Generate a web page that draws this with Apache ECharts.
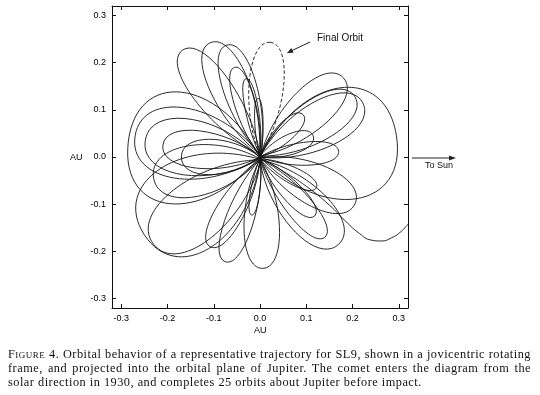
<!DOCTYPE html>
<html><head><meta charset="utf-8">
<script src="https://cdn.jsdelivr.net/npm/echarts@6/dist/echarts.min.js"></script>
<style>
html,body{margin:0;padding:0;background:#fff;}
#c{position:absolute;left:0;top:0;width:540px;height:395px;}
#cap{position:absolute;left:8px;top:348px;width:523px;font-family:"Liberation Serif",serif;font-size:12.3px;line-height:13.8px;color:#111;letter-spacing:0.5px;}
.j{text-align:justify;text-align-last:justify;white-space:nowrap;}
.sc{font-variant:small-caps;}
</style></head><body>
<div id="c"></div>
<div id="cap">
<div class="j"><span class="sc">Figure</span> 4. Orbital behavior of a representative trajectory for SL9, shown in a jovicentric rotating</div>
<div class="j">frame, and projected into the orbital plane of Jupiter. The comet enters the diagram from the</div>
<div>solar direction in 1930, and completes 25 orbits about Jupiter before impact.</div>
</div>
<script>
// ---- tick values & labels ----
const xTicks = [-0.3, -0.2, -0.1, 0, 0.1, 0.2, 0.3];
const xTickLabels = ['-0.3', '-0.2', '-0.1', '0.0', '0.1', '0.2', '0.3'];
const yTicks = [-0.3, -0.2, -0.1, 0, 0.1, 0.2, 0.3];
const yTickLabels = ['-0.3', '-0.2', '-0.1', '0.0', '0.1', '0.2', '0.3'];

// ---- orbit loops (AU) ----
// each loop: near-Jupiter point (peri), farthest point (apo), half-width of the loop
const periX = [0.000, 0.000, 0.002, -0.002, 0.001, 0.000,  0.000, 0.002, 0.000, 0.000, 0.000, 0.002, 0.000, 0.000,  0.000, 0.001, 0.000, 0.000,  0.000, 0.000, 0.000, 0.000, 0.000,  0.000, 0.002, 0.000, 0.000, 0.000, 0.000, 0.000];
const periY = [0.005, 0.006, 0.003, 0.004, 0.002, 0.000,  0.000, 0.002, -0.003, 0.000, -0.005, -0.006, -0.004, 0.000,  -0.005, -0.004, -0.005, -0.004,  -0.006, -0.004, -0.003, -0.002, -0.004,  0.000, 0.003, 0.002, 0.000, 0.002, 0.000, 0.000];
const apoX  = [-0.168, -0.108, -0.072, -0.055, -0.030, -0.004,  -0.285, -0.270, -0.248, -0.210, -0.250, -0.230, -0.230, -0.170,  0.006, -0.075, -0.108, -0.018,  0.170, 0.140, 0.118, 0.205, 0.122,  0.295, 0.180, 0.205, 0.222, 0.115, 0.170, 0.093];
const apoY  = [0.226, 0.242, 0.237, 0.190, 0.166, 0.124,  0.030, 0.045, 0.035, 0.025, -0.165, -0.185, -0.045, 0.000,  -0.236, -0.222, -0.190, -0.123,  -0.185, -0.170, -0.125, -0.100, -0.065,  0.045, 0.168, 0.128, 0.115, 0.045, 0.012, 0.090];
const halfW = [0.042, 0.042, 0.036, 0.022, 0.014, 0.009,  0.120, 0.076, 0.060, 0.040, 0.100, 0.065, 0.055, 0.038,  0.038, 0.030, 0.030, 0.010,  0.050, 0.028, 0.022, 0.045, 0.018,  0.120, 0.045, 0.045, 0.050, 0.022, 0.025, 0.020];

// final orbit (dashed)
const finalPeri = [0.000, 0.004];
const finalApo = [0.022, 0.243];
const finalHalfW = 0.037;

// incoming path from the solar direction
const entryPath = [[0.32,-0.142],[0.305,-0.158],[0.285,-0.171],[0.262,-0.178],[0.24,-0.176],[0.215,-0.162],[0.185,-0.136],[0.15,-0.102],[0.1,-0.062],[0.05,-0.03],[0.01,-0.006]];

const INK = '#141414';
const loopRows = periX.map((_, i) => [periX[i], periY[i], apoX[i], apoY[i], halfW[i]]);
const finalRows = [[finalPeri[0], finalPeri[1], finalApo[0], finalApo[1], finalHalfW]];

function loopRenderer(dash) {
  return function (params, api) {
    const p = api.coord([api.value(0), api.value(1)]);
    const a = api.coord([api.value(2), api.value(3)]);
    const sz = api.size([api.value(4), api.value(4)]);
    const h = (sz[0] + sz[1]) / 2 * 1.333;
    const dx = a[0] - p[0], dy = a[1] - p[1];
    const L = Math.sqrt(dx * dx + dy * dy) || 1;
    const ex = dx / L, ey = dy / L;
    const nx = -ey, ny = ex;
    const mx = p[0] + ex * 0.38 * L, my = p[1] + ey * 0.38 * L;
    const st = { stroke: INK, fill: 'none', lineWidth: 0.9, lineDash: dash || null };
    return {
      type: 'group',
      children: [
        { type: 'bezierCurve', shape: { x1: p[0], y1: p[1], cpx1: mx + nx * h, cpy1: my + ny * h, cpx2: a[0] + nx * h, cpy2: a[1] + ny * h, x2: a[0], y2: a[1] }, style: st },
        { type: 'bezierCurve', shape: { x1: a[0], y1: a[1], cpx1: a[0] - nx * h, cpy1: a[1] - ny * h, cpx2: mx - nx * h, cpy2: my - ny * h, x2: p[0], y2: p[1] }, style: st }
      ]
    };
  };
}

function lab(ticks, labels) {
  return v => { const i = ticks.findIndex(t => Math.abs(t - v) < 1e-9); return i >= 0 ? labels[i] : ''; };
}
const labelStyle = { fontFamily: 'Liberation Sans', fontSize: 9, color: '#000' };
const lineStyle = { color: '#111', width: 1 };

function xAx(pos, showLabel) {
  return {
    type: 'value', min: -0.32, max: 0.32, position: pos, gridIndex: 0,
    axisLine: { show: true, onZero: false, lineStyle },
    axisTick: { show: true, inside: true, length: 4, lineStyle, customValues: xTicks },
    axisLabel: Object.assign({ show: showLabel, margin: 6, customValues: xTicks, formatter: lab(xTicks, xTickLabels) }, labelStyle),
    splitLine: { show: false }
  };
}
function yAx(pos, showLabel) {
  return {
    type: 'value', min: -0.32, max: 0.32, position: pos, gridIndex: 0,
    axisLine: { show: true, onZero: false, lineStyle },
    axisTick: { show: true, inside: true, length: 4, lineStyle, customValues: yTicks },
    axisLabel: Object.assign({ show: showLabel, margin: 6, customValues: yTicks, formatter: lab(yTicks, yTickLabels) }, labelStyle),
    splitLine: { show: false }
  };
}

const chart = echarts.init(document.getElementById('c'), null, { renderer: 'canvas' });
chart.setOption({
  animation: false,
  backgroundColor: '#fff',
  grid: { left: 112, right: 132, top: 6, bottom: 87, containLabel: false },
  xAxis: [xAx('bottom', true), xAx('top', false)],
  yAxis: [yAx('left', true), yAx('right', false)],
  series: [
    { type: 'custom', name: 'loops', data: loopRows, renderItem: loopRenderer(null), clip: true, silent: true,
      encode: { x: [0, 2], y: [1, 3] } },
    { type: 'custom', name: 'final', data: finalRows, renderItem: loopRenderer([3.5, 2.2]), clip: true, silent: true,
      encode: { x: [0, 2], y: [1, 3] } },
    { type: 'line', name: 'entry', data: entryPath, smooth: 0.5, symbol: 'none', silent: true, clip: true,
      lineStyle: { color: INK, width: 0.9 } }
  ],
  graphic: [
    { type: 'text', left: 70, top: 153, style: { text: 'AU', font: '9px "Liberation Sans"', fill: '#000' } },
    { type: 'text', left: 254, top: 326, style: { text: 'AU', font: '9px "Liberation Sans"', fill: '#000' } },
    { type: 'text', left: 317, top: 33, style: { text: 'Final Orbit', font: '10px "Liberation Sans"', fill: '#111' } },
    { type: 'polyline', shape: { points: [[310, 42], [291, 51]] }, style: { stroke: '#222', lineWidth: 1 } },
    { type: 'polygon', shape: { points: [[287, 53], [293.5, 52.7], [291.3, 48.1]] }, style: { fill: '#222' } },
    { type: 'polyline', shape: { points: [[412, 158], [450, 158]] }, style: { stroke: '#222', lineWidth: 1 } },
    { type: 'polygon', shape: { points: [[456, 158], [449, 155.5], [449, 160.5]] }, style: { fill: '#222' } },
    { type: 'text', left: 425, top: 161, style: { text: 'To Sun', font: '9px "Liberation Sans"', fill: '#111' } }
  ]
});
</script>
</body></html>
